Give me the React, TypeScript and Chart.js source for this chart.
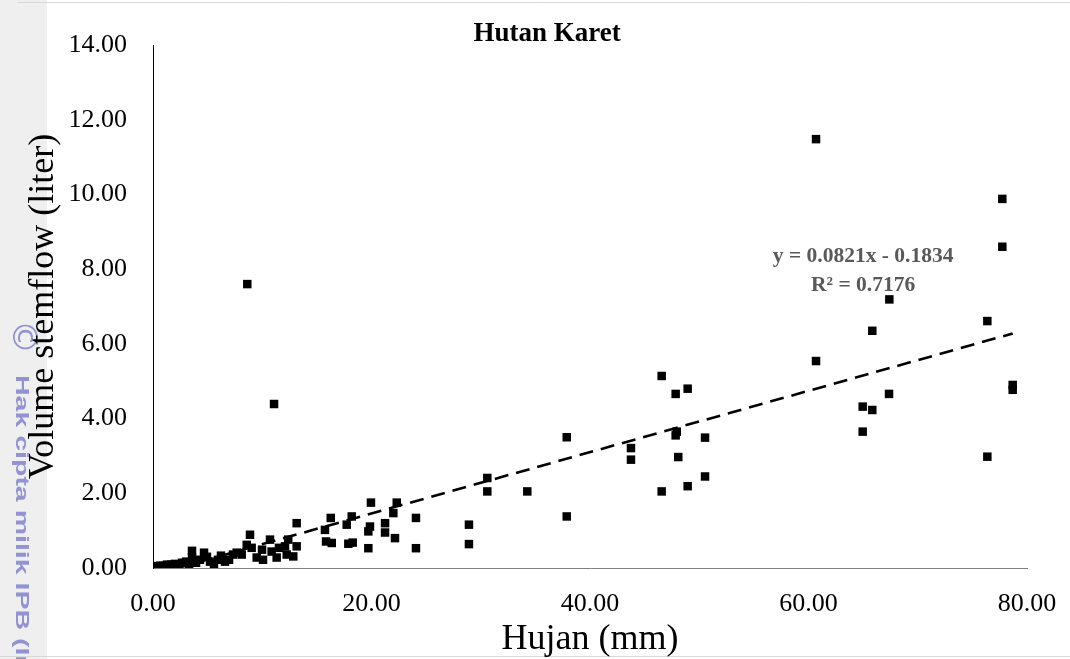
import React, { useEffect, useRef } from "react";
import { Chart, registerables } from "chart.js";

Chart.register(...registerables);

// Rainfall (mm) and stemflow volume (liter) pairs
const hujan: number[] = [
  0.27, 0.64, 0.92, 1.28, 1.65, 2.01, 2.38, 2.65, 3.02, 3.3, 3.57, 3.57, 3.94, 4.3, 4.67, 4.94, 5.22, 5.58, 5.95, 6.22, 6.59, 6.96, 7.32,
  7.66, 8.12, 8.58, 8.88, 9.03, 9.49, 9.98, 10.07, 10.71, 10.86, 11.32, 11.53, 12.08, 12.24, 12.38, 12.84, 13.15, 13.15,
  8.63, 11.08,
  15.74, 15.84, 16.27, 16.36, 17.73, 17.88, 18.19, 18.28, 19.71, 19.71, 19.86, 19.95, 21.24, 21.24, 22.0, 22.15, 22.31,
  24.07, 24.07, 28.92, 28.92, 30.6, 30.6, 34.26, 37.87, 37.87,
  43.75, 43.75, 46.56, 46.56, 47.84, 47.84, 47.94, 48.08, 48.94, 48.94, 50.53, 50.53,
  60.69, 60.69, 64.96, 64.96, 65.84, 65.84, 67.37, 67.4, 76.37, 76.37, 77.74, 77.74, 78.69, 78.69,
];
const volumeStemflow: number[] = [
  0.05, 0.06, 0.06, 0.09, 0.09, 0.11, 0.09, 0.14, 0.17, 0.11, 0.46, 0.28, 0.14, 0.22, 0.41, 0.3, 0.17, 0.09, 0.22, 0.33, 0.17, 0.22, 0.36,
  0.41, 0.36, 0.62, 0.89, 0.54, 0.28, 0.49, 0.22, 0.76, 0.44, 0.28, 0.54, 0.58, 0.36, 0.76, 0.31, 0.58, 1.2,
  7.6, 4.39,
  1.02, 0.71, 1.34, 0.67, 1.16, 0.65, 1.38, 0.68, 0.98, 0.53, 1.11, 1.75, 1.2, 0.95, 1.47, 0.8, 1.75,
  1.34, 0.53, 1.16, 0.64, 2.41, 2.05, 2.05, 3.5, 1.38,
  3.21, 2.9, 5.14, 2.05, 4.66, 3.55, 3.65, 2.97, 4.8, 2.19, 3.49, 2.45,
  11.48, 5.54, 4.32, 3.65, 4.23, 6.35, 4.66, 7.19, 2.98, 6.61, 9.88, 8.6, 4.9, 4.77,
];

// Linear trendline reported on the chart
const slope = 0.0821;
const intercept = -0.1834;
const r2 = 0.7176;

const xTicks = [0, 20, 40, 60, 80];
const yTicks = [0, 2, 4, 6, 8, 10, 12, 14];

const chartTitle = "Hutan Karet";
const xTitle = "Hujan (mm)";
const yTitle = "Volume stemflow (liter)";
const watermark = "Hak cipta milik IPB (Institut Pertanian Bogor)";

export default function App() {
  const ref = useRef<HTMLCanvasElement | null>(null);

  useEffect(() => {
    document.body.style.margin = "0";
    const canvas = ref.current;
    if (!canvas) return;

    const points = hujan.map((x, i) => ({ x, y: volumeStemflow[i] }));
    const xmin = Math.min(...hujan);
    const xmax = Math.max(...hujan);
    const trend = [
      { x: xmin, y: slope * xmin + intercept },
      { x: xmax, y: slope * xmax + intercept },
    ];

    const serif = "'Liberation Serif', 'Times New Roman', serif";

    const decor = {
      id: "decor",
      beforeDraw(chart: any) {
        const { ctx, width, height } = chart;
        ctx.save();
        ctx.fillStyle = "#ffffff";
        ctx.fillRect(0, 0, width, height);
        ctx.fillStyle = "#efefef";
        ctx.fillRect(0, 0, 47, height);
        ctx.strokeStyle = "#d9d9d9";
        ctx.lineWidth = 1;
        ctx.beginPath();
        ctx.moveTo(17, 2.5);
        ctx.lineTo(width, 2.5);
        ctx.moveTo(0, height - 2.5);
        ctx.lineTo(width, height - 2.5);
        ctx.stroke();
        // watermark
        ctx.translate(22, 320);
        ctx.rotate(Math.PI / 2);
        ctx.fillStyle = "#9393d3";
        ctx.textBaseline = "middle";
        ctx.textAlign = "left";
        ctx.font = "34px 'DejaVu Sans', sans-serif";
        ctx.fillText("©", 0, 0);
        ctx.translate(55, 1);
        ctx.scale(1.5, 1);
        ctx.font = "bold 19px 'Liberation Sans', Arial, sans-serif";
        ctx.fillText(watermark, 0, 0);
        ctx.restore();
      },
      afterDraw(chart: any) {
        const { ctx } = chart;
        const xs = chart.scales.x;
        const ys = chart.scales.y;
        ctx.save();
        ctx.fillStyle = "#000";
        ctx.textAlign = "center";
        ctx.textBaseline = "middle";
        ctx.font = `bold 27px ${serif}`;
        ctx.fillText(chartTitle, chart.width / 2 + 12, 34);
        ctx.fillStyle = "#595959";
        ctx.font = `bold 21.5px ${serif}`;
        const ex = xs.getPixelForValue(65);
        ctx.fillText(
          `y = ${slope.toFixed(4)}x - ${Math.abs(intercept).toFixed(4)}`,
          ex,
          ys.getPixelForValue(8.35)
        );
        ctx.fillText(`R² = ${r2.toFixed(4)}`, ex, ys.getPixelForValue(7.57));
        ctx.restore();
      },
    };

    const chart = new Chart(canvas, {
      type: "scatter",
      data: {
        datasets: [
          {
            label: "Data",
            data: points,
            pointStyle: "rect",
            pointRadius: 6,
            pointBackgroundColor: "#000",
            pointBorderWidth: 0,
            showLine: false,
          },
          {
            label: "Linear",
            data: trend,
            showLine: true,
            pointRadius: 0,
            borderColor: "#000",
            borderWidth: 2.6,
            borderDash: [14, 8],
            fill: false,
          } as any,
        ],
      },
      options: {
        responsive: false,
        animation: false,
        layout: { padding: { top: 45, right: 43, bottom: 0, left: 0 } },
        plugins: {
          legend: { display: false },
          tooltip: { enabled: false },
          title: { display: false },
        },
        scales: {
          x: {
            type: "linear",
            min: xTicks[0],
            max: xTicks[xTicks.length - 1],
            afterBuildTicks: (s: any) => {
              s.ticks = xTicks.map((v) => ({ value: v }));
            },
            afterFit: (s: any) => {
              s.height = 91;
              s.paddingLeft = 0;
              s.paddingRight = 0;
            },
            grid: { display: false, drawTicks: false },
            border: { display: true, color: "#7f7f7f", width: 1 },
            ticks: {
              padding: 21,
              color: "#000",
              font: { family: serif, size: 26 },
              callback: (v: any) => Number(v).toFixed(2),
              maxRotation: 0,
            },
            title: {
              display: true,
              text: xTitle,
              color: "#000",
              font: { family: serif, size: 36 },
              padding: { top: 0, bottom: -2 },
            },
          },
          y: {
            type: "linear",
            min: yTicks[0],
            max: yTicks[yTicks.length - 1],
            afterBuildTicks: (s: any) => {
              s.ticks = yTicks.map((v) => ({ value: v }));
            },
            afterFit: (s: any) => {
              s.width = 153;
              s.paddingTop = 0;
              s.paddingBottom = 0;
            },
            grid: { display: false, drawTicks: false },
            border: { display: true, color: "#000", width: 1 },
            ticks: {
              padding: 26,
              color: "#000",
              font: { family: serif, size: 26 },
              callback: (v: any) => Number(v).toFixed(2),
            },
            title: {
              display: true,
              text: yTitle,
              color: "#000",
              font: { family: serif, size: 36 },
              padding: { top: 22, bottom: 0 },
            },
          },
        },
      },
      plugins: [decor],
    });

    return () => chart.destroy();
  }, []);

  return (
    <div style={{ width: 1070, height: 659 }}>
      <canvas ref={ref} width={1070} height={659} />
    </div>
  );
}
